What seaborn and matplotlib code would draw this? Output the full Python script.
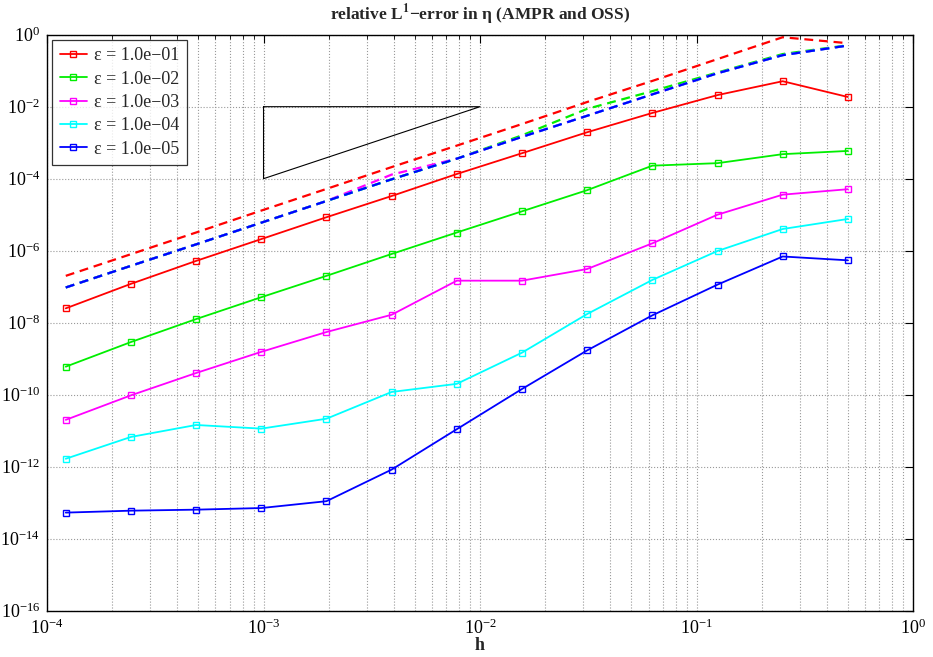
import numpy as np
import pandas as pd
import seaborn as sns
import matplotlib.pyplot as plt
from matplotlib.ticker import LogLocator, NullLocator, LogFormatterSciNotation
from matplotlib.lines import Line2D

# --- DATA ---
H = [1.220703125e-4, 2.44140625e-4, 4.8828125e-4, 9.765625e-4, 1.953125e-3,
     3.90625e-3, 7.8125e-3, 1.5625e-2, 3.125e-2, 6.25e-2, 0.125, 0.25, 0.5]

EPS_LABELS = ['ε = 1.0e−01', 'ε = 1.0e−02', 'ε = 1.0e−03', 'ε = 1.0e−04', 'ε = 1.0e−05']
COLORS = ['#ff0000', '#00ee00', '#ff00ff', '#00ffff', '#0000ff']

# AMPR (solid, square markers)
ERR_1 = [2.5e-8, 1.2e-7, 5.2e-7, 2.1e-6, 8.5e-6, 3.3e-5, 1.35e-4, 5.1e-4, 1.95e-3, 6.7e-3, 2.1e-2, 5.1e-2, 1.86e-2]
ERR_2 = [6.0e-10, 2.9e-9, 1.26e-8, 5.1e-8, 2.0e-7, 8.1e-7, 3.2e-6, 1.24e-5, 4.8e-5, 2.3e-4, 2.7e-4, 4.8e-4, 5.9e-4]
ERR_3 = [2.0e-11, 9.6e-11, 4.0e-10, 1.55e-9, 5.5e-9, 1.66e-8, 1.47e-7, 1.47e-7, 3.1e-7, 1.6e-6, 1.0e-5, 3.6e-5, 5.1e-5]
ERR_4 = [1.66e-12, 6.7e-12, 1.44e-11, 1.14e-11, 2.15e-11, 1.19e-10, 2.0e-10, 1.47e-9, 1.74e-8, 1.54e-7, 9.8e-7, 4.0e-6, 7.6e-6]
ERR_5 = [5.3e-14, 6.0e-14, 6.4e-14, 7.1e-14, 1.1e-13, 8.3e-13, 1.1e-11, 1.44e-10, 1.7e-9, 1.6e-8, 1.14e-7, 6.9e-7, 5.4e-7]

# OSS (dashed, no markers)
OSS_1 = [2.0e-7, 8.0e-7, 3.2e-6, 1.3e-5, 5.2e-5, 2.1e-4, 8.3e-4, 3.3e-3, 1.35e-2, 5.2e-2, 0.21, 0.85, 0.58]
OSS_2 = [9.5e-8, 3.8e-7, 1.5e-6, 6.0e-6, 2.4e-5, 9.6e-5, 3.6e-4, 1.6e-3, 8.7e-3, 2.7e-2, 8.9e-2, 0.29, 0.51]
OSS_3 = [9.5e-8, 3.8e-7, 1.5e-6, 6.0e-6, 2.4e-5, 1.3e-4, 3.6e-4, 1.45e-3, 5.6e-3, 2.2e-2, 8.5e-2, 0.27, 0.5]
OSS_4 = [9.5e-8, 3.8e-7, 1.5e-6, 6.0e-6, 2.4e-5, 9.6e-5, 3.6e-4, 1.45e-3, 5.6e-3, 2.2e-2, 8.5e-2, 0.27, 0.5]
OSS_5 = [9.5e-8, 3.8e-7, 1.5e-6, 6.0e-6, 2.4e-5, 9.6e-5, 3.6e-4, 1.45e-3, 5.6e-3, 2.2e-2, 8.5e-2, 0.27, 0.5]

# slope-2 reference triangle
TRI_X = [1e-3, 1e-2, 1e-3, 1e-3]
TRI_Y = [1e-2, 1e-2, 1e-4, 1e-2]

# --- STYLE ---
sns.set_theme(style="white")
plt.rcParams['font.family'] = ['Liberation Serif', 'DejaVu Serif']
plt.rcParams['mathtext.fontset'] = 'stix'
plt.rcParams['xtick.direction'] = 'in'
plt.rcParams['ytick.direction'] = 'in'

solid = [ERR_1, ERR_2, ERR_3, ERR_4, ERR_5]
dashed = [OSS_1, OSS_2, OSS_3, OSS_4, OSS_5]

df_amp = pd.concat([pd.DataFrame({'h': H, 'err': e, 'eps': lab})
                    for e, lab in zip(solid, EPS_LABELS)], ignore_index=True)
df_oss = pd.concat([pd.DataFrame({'h': H, 'err': e, 'eps': lab})
                    for e, lab in zip(dashed, EPS_LABELS)], ignore_index=True)
palette = dict(zip(EPS_LABELS, COLORS))

fig = plt.figure(figsize=(9.33, 6.57), dpi=100)
ax = fig.add_axes([0.0504, 0.0705, 0.9282, 0.8767])
ax.set_xscale('log')
ax.set_yscale('log')

# dashed OSS curves
for lab in EPS_LABELS:
    sub = df_oss[df_oss['eps'] == lab]
    sns.lineplot(data=sub, x='h', y='err', color=palette[lab], linestyle='--',
                 linewidth=1.6, legend=False, ax=ax, sort=True)
for line in ax.lines:
    line.set_dashes([4, 2.6])

# solid AMPR curves
for lab in EPS_LABELS:
    sub = df_amp[df_amp['eps'] == lab]
    sns.lineplot(data=sub, x='h', y='err', color=palette[lab], linewidth=1.3,
                 marker='s', markersize=5, markerfacecolor='none',
                 markeredgecolor=palette[lab], markeredgewidth=1.0,
                 legend=False, ax=ax, sort=True)

ax.plot(TRI_X, TRI_Y, color='black', linewidth=0.8)

# axes
ax.set_xlim(1e-4, 1)
ax.set_ylim(1e-16, 1)
ax.set_yticks([10.0 ** k for k in range(-16, 1, 2)])
ax.yaxis.set_major_formatter(LogFormatterSciNotation())
ax.yaxis.set_minor_locator(NullLocator())
ax.xaxis.set_major_locator(LogLocator(base=10))
ax.xaxis.set_minor_locator(LogLocator(base=10, subs=np.arange(2, 10)))
ax.tick_params(which='both', top=True, right=True, labelsize=13, colors='black')
ax.tick_params(which='major', length=6, width=0.8)
ax.tick_params(which='minor', length=3, width=0.6)
ax.tick_params(axis='x', which='major', pad=6)
ax.tick_params(axis='y', which='major', pad=5)
ax.grid(True, which='major', linestyle=':', color='0.6', linewidth=0.8)
ax.xaxis.grid(True, which='minor', linestyle=':', color='0.6', linewidth=0.8)
for sp in ax.spines.values():
    sp.set_color('black')
    sp.set_linewidth(1.0)

ax.set_xlabel('h', fontsize=13, fontweight='bold', labelpad=-1)
ax.set_ylabel('')
ax.set_title(r'relative L$^{\mathbf{1}}$−error in η (AMPR and OSS)',
             fontsize=12.5, fontweight='bold', pad=11)

handles = [Line2D([], [], color=c, linewidth=1.3, marker='s', markersize=5,
                  markerfacecolor='none', markeredgecolor=c) for c in COLORS]
leg = ax.legend(handles, EPS_LABELS, loc='upper left', fontsize=13,
                frameon=True, fancybox=False, edgecolor='black',
                borderaxespad=0.3, handlelength=1.5, labelspacing=0.35,
                borderpad=0.4, handletextpad=0.4)
leg.get_frame().set_linewidth(0.9)

plt.savefig('out.png', dpi=100)
plt.close()
